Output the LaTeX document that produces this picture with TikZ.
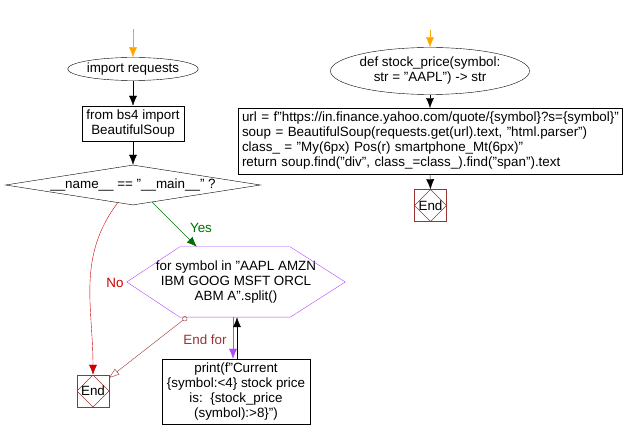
\documentclass[tikz,border=0pt]{standalone}
\usepackage{fontspec}
\setmainfont{Liberation Sans}
\usetikzlibrary{arrows.meta, shapes.geometric, calc}

\definecolor{startorange}{RGB}{255,165,0}
\definecolor{nored}{RGB}{204,0,0}
\definecolor{yesgreen}{RGB}{0,110,0}
\definecolor{endred}{RGB}{153,51,51}
\definecolor{looppurple}{RGB}{176,72,255}

\tikzset{
  flowarrow/.style={-{Latex[length=10pt,width=8pt]}},
  startarrow/.style={draw=startorange, -{Latex[length=10pt,width=8pt]}},
  termbox/.style={draw, ellipse, align=center, inner sep=0pt},
  stepbox/.style={draw, rectangle, align=center, inner sep=2pt},
  decision/.style={draw, diamond, inner sep=0pt, aspect=6},
  endbox/.style={draw=endred, minimum size=32pt, inner sep=0pt,
    path picture={\draw [endred] (path picture bounding box.north)
      -- (path picture bounding box.east) -- (path picture bounding box.south)
      -- (path picture bounding box.west) -- cycle;}},
}

\begin{document}
\begin{tikzpicture}[x=1pt, y=-1pt, font=\fontsize{13.4}{15}\selectfont]
\useasboundingbox (0,0) rectangle (624,438);

\coordinate (S1) at (133,29);
\node [termbox, minimum width=107pt, minimum height=23pt] (L1) at (133,69) {import requests};
\node [stepbox, minimum width=102pt, minimum height=35pt] (L2) at (133,123.5) {from bs4 import\\BeautifulSoup};
\node [decision, minimum width=255pt, minimum height=40pt] (L3) at (133,185) {\_\_name\_\_ == "\_\_main\_\_" ?};

\node [align=center, minimum width=218pt, minimum height=70pt, inner sep=0pt] (L4) at (236,282)
  {for symbol in "AAPL AMZN\\IBM GOOG MSFT ORCL\\ABM A".split()};
\node [stepbox, minimum width=148pt, minimum height=65pt] (L5) at (236,391.5)
  {print(f"Current\\\{symbol:<4\} stock price\\is:\ \ \{stock\_price\\(symbol):>8\}")};

\node [endbox] (E1) at (93,391) {End};

\coordinate (S2) at (430,30);
\node [termbox, minimum width=162pt, minimum height=47pt] (R1) at (430,71) {def stock\_price(symbol:\\str = "AAPL") -> str};
\node [stepbox, align=left, text width=376pt, inner sep=4pt, minimum height=64pt] (R2) at (430,141)
  {url = f"https://in.finance.yahoo.com/quote/\{symbol\}?s=\{symbol\}"\\
   soup = BeautifulSoup(requests.get(url).text, "html.parser")\\
   class\_ = "My(6px) Pos(r) smartphone\_Mt(6px)"\\
   return soup.find("div", class\_=class\_).find("span").text};
\node [endbox] (E2) at (430.5,205.5) {End};

\node [text=nored] (NO) at (115,283) {No};
\node [text=yesgreen] (YES) at (201,228) {Yes};
\node [text=endred] (EF) at (205,340) {End for};

\draw [startarrow] (S1) -- (L1.north);
\draw [startarrow] (S2) -- (R1.north);

\foreach \s/\t in {L1/L2,
                   L2/L3,
                   R1/R2,
                   R2/E2}
    \draw [flowarrow] (\s.south) -- (\t.north);

\draw [looppurple] (L4.west) -- ([xshift=53pt]L4.north west) -- ([xshift=-55pt]L4.north east)
  -- (L4.east) -- ([xshift=-55pt]L4.south east) -- ([xshift=53pt]L4.south west) -- cycle;

\draw [yesgreen, flowarrow] ($(L3.south)!0.15!(L3.east)$) -- ([xshift=70pt]L4.north west);
\draw [nored, flowarrow] ($(L3.south)!0.12!(L3.west)$) to [out=233, in=90] (E1.north);
\draw [endred, {Circle[open,length=5pt]}-{Triangle[open,length=10pt,width=7pt]}]
  ([xshift=60pt]L4.south west) -- ([yshift=-3pt]E1.north east);

\draw [looppurple, flowarrow] ([xshift=-3pt]L4.south) -- ([xshift=-3pt]L5.north);
\draw [flowarrow] ([xshift=1pt]L5.north) -- ([xshift=1pt]L4.south);

\end{tikzpicture}
\end{document}
